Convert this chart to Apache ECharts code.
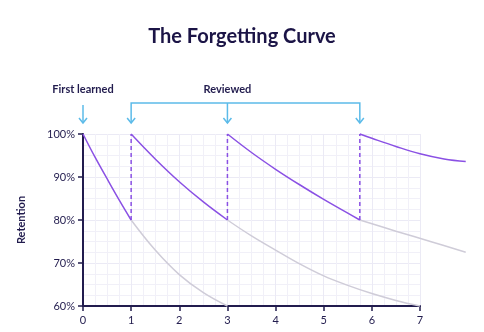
<!DOCTYPE html>
<html><head><meta charset="utf-8">
<script src="https://cdn.jsdelivr.net/npm/echarts@6/dist/echarts.min.js"></script>
<style>html,body{margin:0;padding:0;background:#fff}#c{width:484px;height:332px}</style>
</head><body><div id="c"></div>
<script>
const titleText = 'The Forgetting Curve';
const yAxisName = 'Retention';
const xMin = 0, xMax = 7, xCurveMax = 8, yMin = 60, yMax = 100;
const learnedTime = 0;
const reviewTimes = [1, 3, 5.75];
const learnedLabel = 'First learned';
const reviewLabel = 'Reviewed';
// retention curves (x = time, y = %)
const purple1 = [[0,100],[0.25,94.6],[0.5,89.6],[0.75,84.7],[1,80]];
const purple2 = [[1,100],[1.5,94.2],[2,88.9],[2.5,84.2],[3,80]];
const purple3 = [[3,100],[3.5,95.7],[4,91.8],[4.5,88.2],[5,84.8],[5.5,81.6],[5.75,80]];
const purple4 = [[5.75,100],[6,99],[6.5,97.1],[7,95.4],[7.5,94.2],[7.95,93.6]];
const gray1 = [[1,80],[1.5,73],[2,67.3],[2.5,63.1],[3,60]];
const gray2 = [[3,80],[3.5,76.3],[4,73],[4.5,69.8],[5,67],[5.5,64.8],[6,62.9],[6.5,61.3],[7,60]];
const gray3 = [[5.75,80],[6.5,77.4],[7.25,74.9],[7.95,72.5]];
const dropLow = 80, dropHigh = 100;

const PURPLE = '#8a50e4', GRAY = '#cfccd8', NAVY = '#221c4e', BLUE = '#5cbbe9', FONT = 'Lato';
const gridL = 83, gridR = 64, gridT = 134, gridB = 26;
const chart = echarts.init(document.getElementById('c'));
// width of the curve grid: same scale as the main axis, extended to xCurveMax
const plotW = 484 - gridL - gridR;
const curveR = 484 - gridL - plotW * (xCurveMax - xMin) / (xMax - xMin);
const curve = (d, color) => ({type:'line', xAxisIndex:1, yAxisIndex:1, data:d, smooth:0.4, showSymbol:false, clip:false, silent:true,
  lineStyle:{color, width:1.5}, z: color===PURPLE?4:3});
const series = [
  curve(gray1, GRAY), curve(gray2, GRAY), curve(gray3, GRAY),
  curve(purple1, PURPLE), curve(purple2, PURPLE), curve(purple3, PURPLE), curve(purple4, PURPLE),
  ...reviewTimes.map(r => ({type:'line', data:[[r,dropLow],[r,dropHigh]], showSymbol:false, silent:true,
    lineStyle:{color:PURPLE, width:1.5, type:[4,3]}, z:4}))
];
chart.setOption({
  animation:false,
  title:{text:titleText, left:'center', top:22, textStyle:{fontFamily:FONT, fontSize:20, fontWeight:'bold', color:'#1b1446'}},
  grid:[{left:gridL, right:gridR, top:gridT, bottom:gridB},{left:gridL, right:curveR, top:gridT, bottom:gridB}],
  xAxis:[{type:'value', min:xMin, max:xMax, interval:1,
    axisLine:{lineStyle:{color:NAVY, width:2}}, axisTick:{length:5, lineStyle:{color:NAVY, width:1.5}},
    axisLabel:{fontFamily:FONT, fontSize:11, color:NAVY, margin:9},
    splitLine:{show:true, lineStyle:{color:'#ebeaf5', width:1}},
    minorTick:{show:false, splitNumber:4}, minorSplitLine:{show:true, lineStyle:{color:'#f1f0f8', width:1}}},
    {type:'value', gridIndex:1, min:xMin, max:xCurveMax, show:false}],
  yAxis:[{type:'value', min:yMin, max:yMax, interval:10, name:yAxisName, nameLocation:'middle', nameGap:56,
    nameTextStyle:{fontFamily:FONT, fontSize:11, fontWeight:'bold', color:NAVY},
    axisLine:{show:true, lineStyle:{color:NAVY, width:2}}, axisTick:{show:true, length:5, lineStyle:{color:NAVY, width:1.5}},
    axisLabel:{fontFamily:FONT, fontSize:11, color:NAVY, margin:8, formatter:'{value}%'},
    splitLine:{show:true, lineStyle:{color:'#ebeaf5', width:1}},
    minorTick:{show:false, splitNumber:4}, minorSplitLine:{show:true, lineStyle:{color:'#f1f0f8', width:1}}},
    {type:'value', gridIndex:1, min:yMin, max:yMax, show:false}],
  series
});

// annotations positioned from the axis scale
const px = t => chart.convertToPixel({gridIndex:0}, [t, yMax]);
const topY = px(0)[1];
const arrowEnd = topY - 11, bracketY = topY - 31, labelY = topY - 45;
const stroke = {stroke:BLUE, lineWidth:1.5, fill:null};
const lx = px(learnedTime)[0];
const rx = reviewTimes.map(r => px(r)[0]);
const head = x => ({type:'polyline', shape:{points:[[x-4,arrowEnd-5],[x,arrowEnd],[x+4,arrowEnd-5]]}, style:stroke, silent:true});
const els = [
  {type:'text', x:lx, y:labelY, style:{text:learnedLabel, fontFamily:FONT, fontSize:11, fontWeight:'bold', fill:NAVY, align:'center', verticalAlign:'middle'}},
  {type:'text', x:rx[1], y:labelY, style:{text:reviewLabel, fontFamily:FONT, fontSize:11, fontWeight:'bold', fill:NAVY, align:'center', verticalAlign:'middle'}},
  {type:'line', shape:{x1:lx, y1:bracketY+2, x2:lx, y2:arrowEnd}, style:stroke, silent:true},
  head(lx),
  {type:'polyline', shape:{points:[[rx[0],arrowEnd],[rx[0],bracketY],[rx[rx.length-1],bracketY],[rx[rx.length-1],arrowEnd]]}, style:stroke, silent:true},
  ...rx.slice(1,-1).map(x => ({type:'line', shape:{x1:x, y1:bracketY, x2:x, y2:arrowEnd}, style:stroke, silent:true})),
  ...rx.map(head)
];
chart.setOption({graphic:{elements:els}});
</script></body></html>
